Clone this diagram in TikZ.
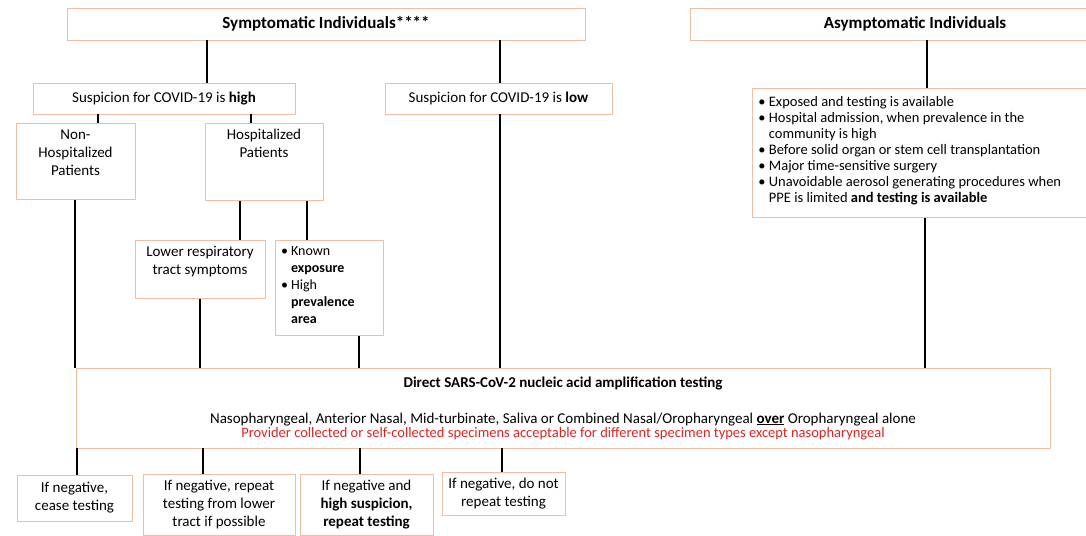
\documentclass[tikz,border=0pt]{standalone}
\usepackage{fontspec}
\setmainfont{Carlito}
\usepackage{xcolor}
\definecolor{peach}{RGB}{240,190,160}
\definecolor{alert}{RGB}{225,35,35}
\newcommand{\tb}[3]{\parbox[t][#2][t]{#1}{\centering #3}}
\newcommand{\lb}[3]{\parbox[t][#2][t]{#1}{\raggedright #3}}
\newcommand{\ind}{\phantom{\textbullet\ }}

\begin{document}
\begin{tikzpicture}[x=1pt, y=-1pt,
    every node/.style={font=\fontsize{15}{18}\selectfont},
    box/.style={draw=peach, line width=0.8pt, fill=white, align=center, inner sep=6pt},
    head/.style={font=\fontsize{17}{20}\selectfont\bfseries},
    link/.style={line width=1.5pt}]
    \useasboundingbox (0,0) rectangle (1086,535);

    \draw (326,24) node[box, head, minimum width=518pt, minimum height=32pt] (sym) {Symptomatic Individuals****};
    \draw (915,24) node[box, head, minimum width=450pt, minimum height=32pt] (asym) {Asymptomatic Individuals};

    \draw (164,98.5) node[box, minimum width=262pt, minimum height=31pt] (high) {Suspicion for COVID-19 is \textbf{high}};
    \draw (498.5,98.5) node[box, minimum width=227pt, minimum height=31pt] (low) {Suspicion for COVID-19 is \textbf{low}};

    \draw (75.5,123) node[box, anchor=north] (nonhosp) {\tb{107pt}{64pt}{Non-\\Hospitalized\\Patients}};
    \draw (264,123) node[box, anchor=north] (hosp) {\tb{106pt}{65pt}{Hospitalized\\Patients}};
    \draw (200,240) node[box, anchor=north] (lower) {\tb{118pt}{46pt}{Lower respiratory\\tract symptoms}};
    \draw (329,240) node[box, anchor=north, font=\fontsize{14}{17}\selectfont] (known) {\lb{96pt}{83pt}{\textbullet\ Known\\\ind\textbf{exposure}\\\textbullet\ High\\\ind\textbf{prevalence}\\\ind\textbf{area}}};

    \draw (752,88) node[box, anchor=north west, inner ysep=8pt, font=\fontsize{14.5}{16}\selectfont] (test) {\lb{372pt}{113pt}{%
        \textbullet\ Exposed and testing is available\\
        \textbullet\ Hospital admission, when prevalence in the\\
        \ind community is high\\
        \textbullet\ Before solid organ or stem cell transplantation\\
        \textbullet\ Major time-sensitive surgery\\
        \textbullet\ Unavoidable aerosol generating procedures when\\
        \ind PPE is limited \textbf{and testing is available}}};

    \draw (563,408) node[box, minimum width=974pt, minimum height=80pt] (naat) {\parbox{960pt}{\centering
        \textbf{Direct SARS-CoV-2 nucleic acid amplification testing}\par\vspace{18pt}
        Nasopharyngeal, Anterior Nasal, Mid-turbinate, Saliva or Combined Nasal/Oropharyngeal \underline{\textbf{over}} Oropharyngeal alone\par
        {\fontsize{14.5}{14}\selectfont\color{alert} Provider collected or self-collected specimens acceptable for different specimen types except nasopharyngeal\par}}};

    \draw (74.5,498) node[box, minimum width=115pt, minimum height=46pt] (cease) {If negative,\\cease testing};
    \draw (219,505) node[box, minimum width=152pt, minimum height=60pt] (retract) {If negative, repeat\\testing from lower\\tract if possible};
    \draw (366.5,505) node[box, minimum width=133pt, minimum height=60pt] (retest) {If negative and\\\textbf{high suspicion,}\\\textbf{repeat testing}};
    \draw (503.5,494) node[box, minimum width=123pt, minimum height=42pt] (stop) {If negative, do not\\repeat testing};

    \draw[link] (sym.south -| 207,0) -- (high.north -| 207,0);
    \draw[link] (sym.south -| 500,0) -- (low.north -| 500,0);
    \draw[link] (asym.south -| 927,0) -- (test.north -| 927,0);
    \draw[link] (high.south -| 98,0) -- (nonhosp.north -| 98,0);
    \draw[link] (high.south -| 251,0) -- (hosp.north -| 251,0);
    \draw[link] (low.south -| 500,0) -- (naat.north -| 500,0);
    \draw[link] (nonhosp.south -| 75,0) -- (naat.north -| 75,0);
    \draw[link] (hosp.south -| 240,0) -- (lower.north -| 240,0);
    \draw[link] (hosp.south -| 307,0) -- (known.north -| 307,0);
    \draw[link] (lower.south -| 200,0) -- (naat.north -| 200,0);
    \draw[link] (known.south -| 359,0) -- (naat.north -| 359,0);
    \draw[link] (test.south -| 925,0) -- (naat.north -| 925,0);
    \draw[link] (naat.south -| 77,0) -- (cease.north -| 77,0);
    \draw[link] (naat.south -| 203,0) -- (retract.north -| 203,0);
    \draw[link] (naat.south -| 360,0) -- (retest.north -| 360,0);
    \draw[link] (naat.south -| 502,0) -- (stop.north -| 502,0);
\end{tikzpicture}
\end{document}
